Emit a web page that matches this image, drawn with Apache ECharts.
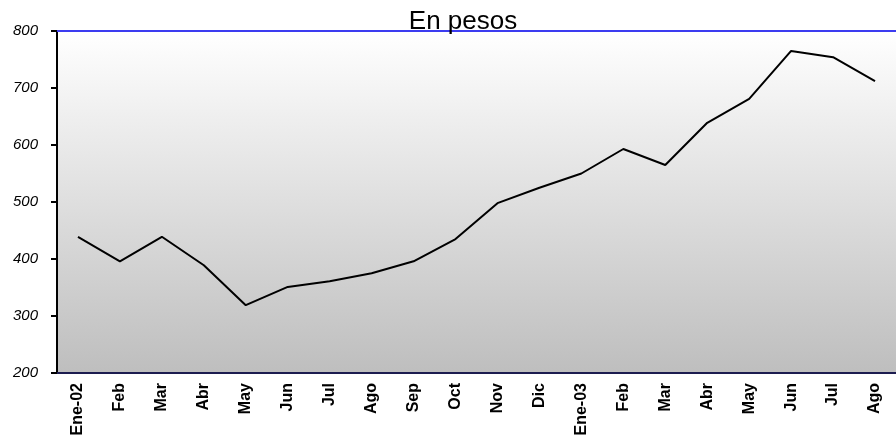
<!DOCTYPE html>
<html>
<head>
<meta charset="utf-8">
<script src="https://cdn.jsdelivr.net/npm/echarts@6/dist/echarts.min.js"></script>
<style>
  html, body { margin: 0; padding: 0; background: #fff; }
  #chart { width: 896px; height: 445px; }
</style>
</head>
<body>
<div id="chart"></div>
<script>
const months = ["Ene-02", "Feb", "Mar", "Abr", "May", "Jun", "Jul", "Ago", "Sep", "Oct",
    "Nov", "Dic", "Ene-03", "Feb", "Mar", "Abr", "May", "Jun", "Jul", "Ago"];
const pesos = [439, 396, 439, 389, 319, 351, 361, 375, 396, 435,
    498, 525, 550, 593, 565, 639, 681, 765, 754, 712];

const chart = echarts.init(document.getElementById("chart"));
const option = {
    animation: false,
    title: {
        text: "En pesos",
        left: 458,
        textAlign: "center",
        top: 4,
        textStyle: { fontFamily: "Liberation Sans, Arial", fontSize: 26, fontWeight: "normal", color: "#000" }
    },
    grid: {
        left: 57, right: 0, top: 31, bottom: 72,
        show: true,
        borderWidth: 0,
        backgroundColor: {
            type: "linear", x: 0, y: 0, x2: 0, y2: 1,
            colorStops: [{ offset: 0, color: "#ffffff" }, { offset: 1, color: "#bebebe" }]
        }
    },
    xAxis: [{
        type: "category",
        data: months,
        boundaryGap: true,
        axisLine: { lineStyle: { color: "#1c1c50", width: 2 } },
        axisTick: { length: 6, lineStyle: { color: "#000", width: 2 } },
        axisLabel: {
            rotate: 90, margin: 10, color: "#000",
            fontFamily: "Liberation Sans, Arial", fontSize: 16, fontWeight: "bold"
        }
    }, {
        type: "category",
        position: "top",
        data: months,
        axisLine: { lineStyle: { color: "#3c3cf0", width: 2 } },
        axisTick: { show: false },
        axisLabel: { show: false }
    }],
    yAxis: {
        type: "value",
        min: 200, max: 800, interval: 100,
        axisLine: { show: true, lineStyle: { color: "#000", width: 2 } },
        axisTick: { show: true, length: 6, lineStyle: { color: "#000", width: 2 } },
        axisLabel: {
            margin: 19, color: "#000", fontStyle: "italic",
            fontFamily: "Liberation Sans, Arial", fontSize: 15
        },
        splitLine: { show: false }
    },
    series: [{
        type: "line",
        data: pesos,
        showSymbol: false,
        lineStyle: { color: "#000", width: 2 },
        z: 5
    }]
};
chart.setOption(option);
</script>
</body>
</html>
